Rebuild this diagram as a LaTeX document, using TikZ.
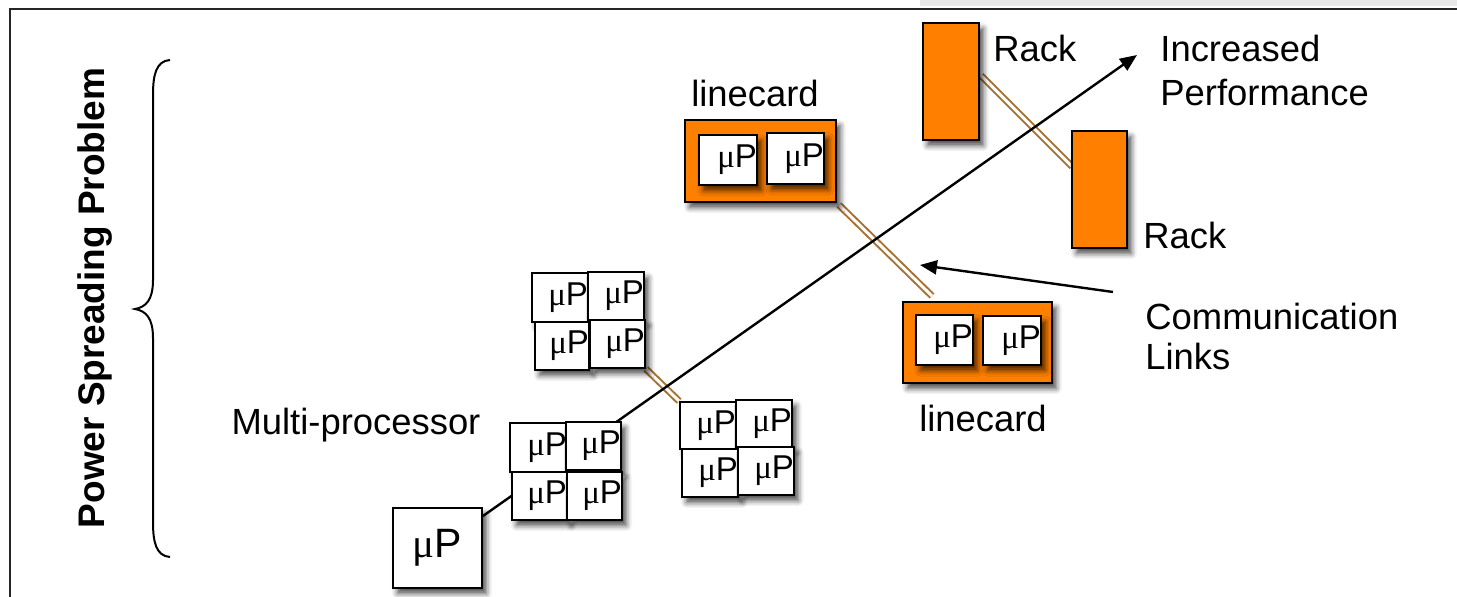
\documentclass[tikz,border=0pt]{standalone}
\usepackage{fontspec}
\setmainfont{Liberation Sans}
\newfontfamily\serifmu{Liberation Serif}
\usetikzlibrary{shadows.blur,arrows.meta,calc,backgrounds}
\definecolor{rackorange}{RGB}{255,128,0}
\definecolor{linkbrown}{RGB}{168,112,50}
\newcommand{\muP}{{\serifmu μ}P}
\begin{document}
\begin{tikzpicture}[x=0.5pt,y=-0.5pt,
  shad/.style={blur shadow={shadow xshift=2.2pt,shadow yshift=-2.8pt,shadow blur radius=2.8pt,shadow opacity=70}},
  ubox/.style={draw=black,line width=0.9pt,fill=white,inner sep=0pt,align=right,shad,
    font=\fontsize{16.5}{18}\selectfont},
  bigbox/.style={draw=black,line width=0.9pt,fill=white,inner sep=0pt,shad,
    font=\fontsize{20.5}{22}\selectfont},
  obox/.style={draw=black,line width=1pt,fill=rackorange,inner sep=0pt,shad},
  lbl/.style={font=\fontsize{18.2}{22}\selectfont,inner sep=0pt},
  link/.style={draw=linkbrown,line width=1pt,double=white,double distance=1.5pt},
  arr/.style={draw=black,line width=1.2pt,-{Triangle[length=8.5pt,width=7pt]}}
]
\useasboundingbox (0,0) rectangle (1457,597);
% slide frame
\fill[gray!18] (920,0) rectangle (1457,6);
\draw[line width=1.1pt,black!85] (10,597) -- (10,9) -- (1457,9);

% brace and side label
\draw[line width=1pt] (170,60) .. controls (156,61) and (153,75) .. (153,95)
  -- (153,280) .. controls (153,300) and (146,307) .. (135,309)
  .. controls (146,311) and (153,318) .. (153,338)
  -- (153,522) .. controls (153,542) and (156,556) .. (170,557);
\node[rotate=90,font=\bfseries\fontsize{18.5}{22}\selectfont] (psp) at (95,298) {Power Spreading Problem};

% single processor
\node[bigbox,minimum width=44.5pt,minimum height=40pt] (up) at (437.5,548) {\raisebox{-2.5pt}{\muP}};

% group 1
\node[ubox,text width=28.5pt,minimum height=24.5pt] (g1a) at (538.5,447.5) {\muP};
\node[ubox,text width=27.5pt,minimum height=24pt] (g1b) at (593.5,446) {\muP};
\node[ubox,text width=27.5pt,minimum height=24pt] (g1c) at (539.5,496) {\muP};
\node[ubox,text width=27.5pt,minimum height=24pt] (g1d) at (594.5,496) {\muP};
% group 2
\node[ubox,text width=28pt,minimum height=24.5pt] (g2a) at (560,297.5) {\muP};
\node[ubox,text width=28pt,minimum height=24pt] (g2b) at (616,296) {\muP};
\node[ubox,text width=27pt,minimum height=24pt] (g2c) at (562,346) {\muP};
\node[ubox,text width=27.5pt,minimum height=24pt] (g2d) at (617.5,344) {\muP};
% group 3
\node[ubox,text width=28pt,minimum height=23.5pt] (g3a) at (708,425.5) {\muP};
\node[ubox,text width=28pt,minimum height=23.5pt] (g3b) at (764,423.5) {\muP};
\node[ubox,text width=28pt,minimum height=24pt] (g3c) at (710,473) {\muP};
\node[ubox,text width=28pt,minimum height=24pt] (g3d) at (766,471) {\muP};

% linecards
\node[obox,minimum width=75.5pt,minimum height=41pt] (lc1) at (760.5,161) {};
\node[ubox,text width=29pt,minimum height=25pt] (lc1a) at (728,160) {\muP};
\node[ubox,text width=28.5pt,minimum height=25.5pt] (lc1b) at (795.5,158.5) {\muP};
\node[obox,minimum width=74.5pt,minimum height=40.5pt] (lc2) at (977.5,342.5) {};
\node[ubox,text width=28.5pt,minimum height=25pt] (lc2a) at (944.5,340) {\muP};
\node[ubox,text width=29pt,minimum height=24.5pt] (lc2b) at (1012,340.5) {\muP};

% racks
\node[obox,minimum width=28pt,minimum height=58.5pt] (rack1) at (951,81.5) {};
\node[obox,minimum width=27.5pt,minimum height=58.5pt] (rack2) at (1099.5,189.5) {};

% labels
\node[lbl] (lmp) at (356,425) {Multi-processor};
\node[lbl] (llc1) at (755,93) {linecard};
\node[lbl] (llc2) at (983,418) {linecard};
\node[lbl,anchor=west] (lr1) at (993,48) {Rack};
\node[lbl,anchor=west] (lr2) at (1143,235) {Rack};
\node[lbl,anchor=west,align=left] (lip) at (1160,70) {Increased\\Performance};
\node[lbl,anchor=west,align=left,font=\fontsize{18.2}{20}\selectfont] (lcl) at (1145,336) {Communication\\Links};

\coordinate (tip) at (1137,55);
\coordinate (lcend) at (932,296);
\coordinate (cltail) at (1113,292);
\coordinate (cltip) at (920,265);

\begin{pgfonlayer}{background}
\draw[link] (g2d.south east) -- (g3a.north west);
\draw[link] ($(lc1.south east)+(2,2)$) -- (lcend);
\draw[link] ($(rack1.east)+(1,-6)$) -- ($(rack2.west)+(1,-23)$);
\draw[arr] (up) -- (tip);
\end{pgfonlayer}
\draw[arr] (cltail) -- (cltip);
\end{tikzpicture}
\end{document}
